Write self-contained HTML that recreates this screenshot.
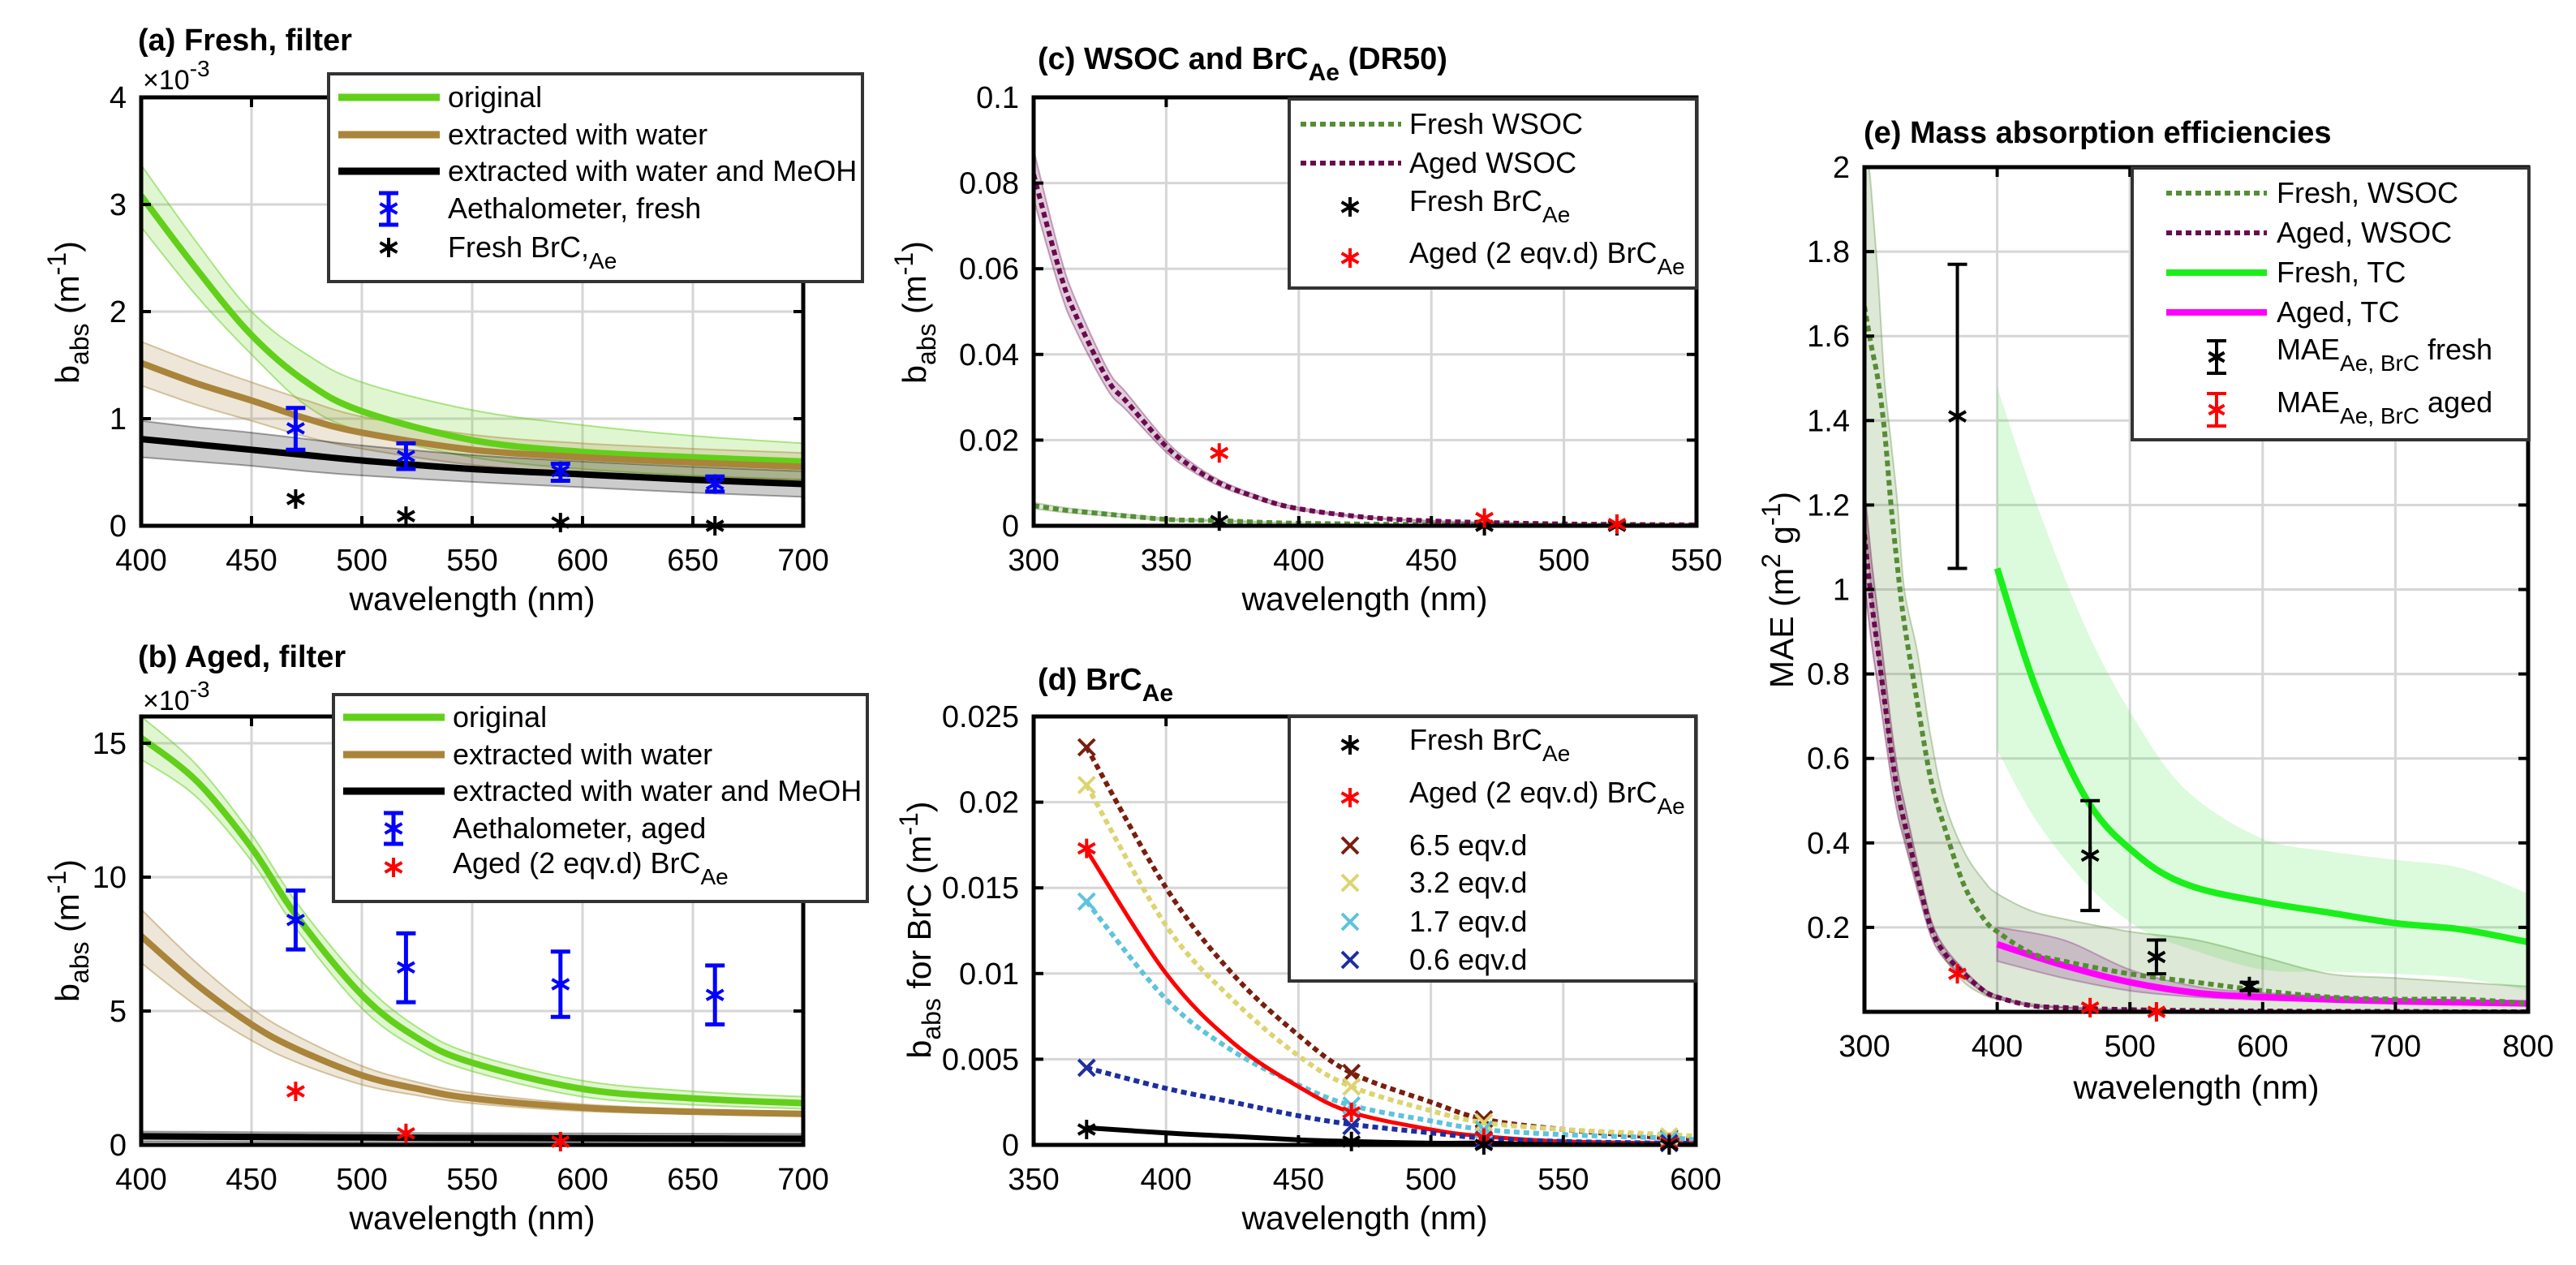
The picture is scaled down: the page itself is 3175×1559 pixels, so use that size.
<!DOCTYPE html>
<html><head><meta charset="utf-8">
<style>
html,body{margin:0;padding:0;background:#fff;}
svg{display:block;}
text{font-family:"Liberation Sans",Arial,sans-serif;fill:#000;}
.tt{font-size:38px;font-weight:bold;}
.lab{font-size:41px;}
.lg{font-size:36px;}
.tk{font-size:38px;}
</style></head>
<body>
<svg id="fig" width="3175" height="1559" viewBox="0 0 3175 1559" xmlns="http://www.w3.org/2000/svg">
<defs id="defs"></defs>
<text class="tt" x="170" y="62">(a) Fresh, filter</text>
<text class="tt" x="170" y="822">(b) Aged, filter</text>
<text class="tt" x="1279" y="85">(c) WSOC and BrC<tspan dy="14" font-size="30">Ae</tspan><tspan dy="-14"> (DR50)</tspan></text>
<text class="tt" x="1279" y="850">(d) BrC<tspan dy="14" font-size="30">Ae</tspan></text>
<text class="tt" x="2297" y="176">(e) Mass absorption efficiencies</text>
<text x="176" y="110" font-size="34">×10<tspan dy="-16" font-size="28">-3</tspan></text>
<text x="176" y="875" font-size="34">×10<tspan dy="-16" font-size="28">-3</tspan></text>
<text class="lab" text-anchor="middle" x="582" y="752">wavelength (nm)</text>
<text class="lab" text-anchor="middle" x="582" y="1515">wavelength (nm)</text>
<text class="lab" text-anchor="middle" x="1682" y="752">wavelength (nm)</text>
<text class="lab" text-anchor="middle" x="1682" y="1515">wavelength (nm)</text>
<text class="lab" text-anchor="middle" x="2707" y="1354">wavelength (nm)</text>
<text class="lab" text-anchor="middle" transform="translate(97,385) rotate(-90)">b<tspan dy="12" font-size="32">abs</tspan><tspan dy="-12"> (m</tspan><tspan dy="-16" font-size="32">-1</tspan><tspan dy="16">)</tspan></text>
<text class="lab" text-anchor="middle" transform="translate(97,1147) rotate(-90)">b<tspan dy="12" font-size="32">abs</tspan><tspan dy="-12"> (m</tspan><tspan dy="-16" font-size="32">-1</tspan><tspan dy="16">)</tspan></text>
<text class="lab" text-anchor="middle" transform="translate(1141,385) rotate(-90)">b<tspan dy="12" font-size="32">abs</tspan><tspan dy="-12"> (m</tspan><tspan dy="-16" font-size="32">-1</tspan><tspan dy="16">)</tspan></text>
<text class="lab" text-anchor="middle" transform="translate(1147,1146) rotate(-90)">b<tspan dy="12" font-size="32">abs</tspan><tspan dy="-12"> for BrC (m</tspan><tspan dy="-16" font-size="32">-1</tspan><tspan dy="16">)</tspan></text>
<text class="lab" text-anchor="middle" transform="translate(2210,727) rotate(-90)">MAE (m<tspan dy="-16" font-size="32">2</tspan><tspan dy="16"> g</tspan><tspan dy="-16" font-size="32">-1</tspan><tspan dy="16">)</tspan></text>
<g id="plots"></g>
<g id="legends"></g>
</svg>
<script>
// ---------- DATA ----------
const aWl=[400,425,450,475,500,550,600,650,700];
const aOrig=[3.08,2.40,1.78,1.34,1.07,0.80,0.69,0.64,0.60];
const aOrigHi=[3.37,2.65,2.0,1.6,1.34,1.08,0.94,0.84,0.77];
const aOrigLo=[2.79,2.15,1.6,1.12,0.88,0.64,0.53,0.47,0.43];
const aWater=[1.52,1.33,1.17,1.0,0.87,0.71,0.64,0.59,0.55];
const aWaterHi=[1.72,1.52,1.34,1.17,1.02,0.85,0.77,0.72,0.68];
const aWaterLo=[1.31,1.13,0.98,0.83,0.72,0.57,0.5,0.46,0.43];
const aMeoh=[0.81,0.76,0.71,0.66,0.61,0.53,0.48,0.43,0.39];
const aMeohHi=[0.98,0.92,0.87,0.81,0.75,0.66,0.6,0.55,0.51];
const aMeohLo=[0.64,0.6,0.56,0.51,0.47,0.41,0.36,0.31,0.27];
const aeWl=[470,520,590,660];
const aAeth=[0.91,0.65,0.51,0.39];
const aAethHi=[1.10,0.77,0.58,0.46];
const aAethLo=[0.71,0.53,0.42,0.32];
const aBrc=[0.25,0.09,0.03,0.0];
const bWl=[400,425,450,470,500,525,550,600,650,700];
const bOrig=[15.2,13.6,11.1,8.6,5.6,4.0,3.07,2.09,1.74,1.56];
const bOrigHi=[16.0,14.2,11.6,9.1,6.1,4.4,3.4,2.4,2.0,1.8];
const bOrigLo=[14.4,13.0,10.6,8.1,5.1,3.6,2.75,1.8,1.5,1.35];
const bWater=[7.8,6.0,4.5,3.6,2.6,2.1,1.74,1.39,1.24,1.16];
const bWaterHi=[8.8,6.8,5.1,4.1,2.95,2.35,1.95,1.52,1.33,1.24];
const bWaterLo=[6.8,5.2,3.9,3.1,2.25,1.85,1.55,1.26,1.15,1.08];
const bMeoh=[0.32,0.31,0.30,0.29,0.28,0.27,0.26,0.25,0.24,0.23];
const bMeohHi=[0.5,0.49,0.48,0.47,0.46,0.45,0.44,0.43,0.42,0.41];
const bMeohLo=[0.12,0.12,0.11,0.11,0.1,0.1,0.09,0.09,0.08,0.08];
const bAeth=[8.4,6.63,6.0,5.6];
const bAethHi=[9.5,7.9,7.22,6.7];
const bAethLo=[7.3,5.33,4.78,4.5];
const bBrcWl=[470,520,590];
const bBrc=[2.0,0.43,0.12];
const cWl=[300,310,316,328,335,350,360,370,382,398,425,451,475,503,550];
const cAged=[0.082,0.059,0.049,0.034,0.029,0.0185,0.0136,0.0100,0.0071,0.0042,0.0020,0.0011,0.0007,0.0004,0.0002];
const cFresh=[0.0047,0.0038,0.0034,0.0027,0.0023,0.0015,0.0013,0.0012,0.0009,0.0006,0.0004,0.0003,0.0002,0.0001,0.0001];
const cPtWl=[370,470,520];
const cFreshBrc=[0.0011,0.0000,0.0000];
const cAgedBrc=[0.0170,0.0018,0.0004];
const dWl=[370,400,425,450,470,500,520,550,590,600];
const d65=[0.0232,0.0150,0.0100,0.0064,0.0042,0.0025,0.0015,0.0009,0.0004,0.0004];
const d32=[0.0210,0.0128,0.0085,0.0052,0.0034,0.0020,0.0013,0.0009,0.0006,0.0005];
const d17=[0.0142,0.0085,0.0055,0.0035,0.0023,0.0014,0.0009,0.0006,0.0004,0.0003];
const dAged=[0.0172,0.0100,0.0060,0.0034,0.0019,0.0009,0.0005,0.0002,0.0001,0.0001];
const d06=[0.0045,0.0033,0.0025,0.0017,0.0012,0.0007,0.0004,0.0002,0.0001,0.0001];
const dFresh=[0.0010,0.0007,0.0005,0.0003,0.0002,0.0001,0.0001,0.0000,0.0000,0.0000];
const dPtWl=[370,470,520,590];
const dPt65=[0.0232,0.0042,0.0015,0.0004];
const dPt32=[0.0210,0.0034,0.0013,0.0005];
const dPt17=[0.0142,0.0023,0.0009,0.0003];
const dPt06=[0.0045,0.0011,0.0003,0.0001];
const dPtAged=[0.0173,0.0019,0.0004,0.0001];
const dPtFresh=[0.0009,0.0002,0.0000,0.0000];
const eWsWl=[300,305,310,315,320,325,330,340,350,360,375,390,400,425,450,500,550,600,650,700,750,800];
const eFreshWs=[1.67,1.58,1.5,1.38,1.2,1.05,0.92,0.73,0.55,0.44,0.30,0.22,0.19,0.14,0.12,0.09,0.07,0.05,0.035,0.03,0.03,0.02];
const eFreshWsHi=[2.1,1.95,1.75,1.5,1.35,1.2,1.0,0.85,0.65,0.5,0.38,0.31,0.28,0.24,0.22,0.19,0.17,0.13,0.09,0.08,0.07,0.06];
const eFreshWsLo=[1.2,1.0,0.85,0.72,0.6,0.5,0.42,0.3,0.2,0.13,0.07,0.04,0.03,0.02,0.01,0.0,0.0,0.0,0.0,0.0,0.0,0.0];
const eAgedWs=[1.13,0.98,0.86,0.74,0.62,0.52,0.45,0.32,0.2,0.14,0.09,0.05,0.035,0.015,0.01,0.005,0.003,0.002,0.001,0.001,0.0,0.0];
const eTcWl=[400,430,468,506,544,600,650,700,750,800];
const eFreshTc=[1.05,0.76,0.50,0.37,0.30,0.26,0.235,0.21,0.195,0.165];
const eFreshTcHi=[1.48,1.2,0.9,0.68,0.52,0.41,0.38,0.36,0.34,0.28];
const eFreshTcLo=[0.62,0.45,0.30,0.20,0.15,0.10,0.095,0.09,0.08,0.05];
const eAgedTcWl=[400,450,500,550,600,700,800];
const eAgedTc=[0.16,0.11,0.07,0.045,0.035,0.025,0.02];
const eAgedTcHi=[0.2,0.17,0.1,0.06,0.045,0.03,0.025];
const eAgedTcLo=[0.12,0.08,0.05,0.035,0.028,0.02,0.015];
const eMaeWl=[370,470,520,590];
const eMaeFresh=[1.41,0.37,0.13,0.06];
const eMaeFreshHi=[1.77,0.5,0.17,0.07];
const eMaeFreshLo=[1.05,0.24,0.09,0.05];
const eMaeAgedWl=[370,470,520];
const eMaeAged=[0.09,0.01,0.0];
const aXt=[400,450,500,550,600,650,700];
const aYt=[0,1,2,3,4];
const bYt=[0,5,10,15];
const cXt=[300,350,400,450,500,550];
const cYt=[0,0.02,0.04,0.06,0.08,0.1];
const cYtl=['0','0.02','0.04','0.06','0.08','0.1'];
const dXt=[350,400,450,500,550,600];
const dYt=[0,0.005,0.01,0.015,0.02,0.025];
const dYtl=['0','0.005','0.01','0.015','0.02','0.025'];
const eXt=[300,400,500,600,700,800];
const eYt=[0.2,0.4,0.6,0.8,1,1.2,1.4,1.6,1.8,2];
const eYtl=['0.2','0.4','0.6','0.8','1','1.2','1.4','1.6','1.8','2'];

// ---------- RENDER ----------
const NS='http://www.w3.org/2000/svg';
function mk(tag,attrs,parent){const e=document.createElementNS(NS,tag);for(const k in attrs)e.setAttribute(k,attrs[k]);parent.appendChild(e);return e;}
const plots=document.getElementById('plots');
const defs=document.getElementById('defs');

function makePanel(id,L,R,T,B,xmin,xmax,ymin,ymax){
  const p={id,L,R,T,B,xmin,xmax,ymin,ymax};
  p.sx=v=>L+(v-xmin)/(xmax-xmin)*(R-L);
  p.sy=v=>B-(v-ymin)/(ymax-ymin)*(B-T);
  const cp=mk('clipPath',{id:'clip-'+id},defs);
  mk('rect',{x:L,y:T,width:R-L,height:B-T},cp);
  p.g=mk('g',{},plots);
  
  
  p.grid=mk('g',{},p.g);
  
  
  p.data=mk('g',{'clip-path':'url(#clip-'+id+')'},p.g);
  
  
  p.over=mk('g',{},p.g);
  return p;
}
function axes(p,xt,xtl,yt,ytl){
  xt.forEach((v,i)=>{const x=p.sx(v);
    if(x>p.L+2&&x<p.R-2){const gl=mk('line',{x1:x,x2:x,y1:p.T,y2:p.B,stroke:'#d6d6d6','stroke-width':3},p.grid);
      
      }
    mk('line',{x1:x,x2:x,y1:p.B,y2:p.B-12,stroke:'#000','stroke-width':4},p.over);
    mk('line',{x1:x,x2:x,y1:p.T,y2:p.T+12,stroke:'#000','stroke-width':4},p.over);
    const t=mk('text',{x:x,y:p.B+55,'text-anchor':'middle',class:'tk'},p.over);t.textContent=xtl[i];
    
    
  });
  yt.forEach((v,i)=>{const y=p.sy(v);
    if(y>p.T+2&&y<p.B-2){const gl=mk('line',{x1:p.L,x2:p.R,y1:y,y2:y,stroke:'#d6d6d6','stroke-width':3},p.grid);
      
      }
    mk('line',{x1:p.L,x2:p.L+12,y1:y,y2:y,stroke:'#000','stroke-width':4},p.over);
    mk('line',{x1:p.R,x2:p.R-12,y1:y,y2:y,stroke:'#000','stroke-width':4},p.over);
    const t=mk('text',{x:p.L-18,y:y+13,'text-anchor':'end',class:'tk'},p.over);t.textContent=ytl[i];
    
    
  });
  const box=mk('rect',{x:p.L,y:p.T,width:p.R-p.L,height:p.B-p.T,fill:'none',stroke:'#000','stroke-width':5},p.over);
  
  
}
function toPts(p,xs,ys){return xs.map((x,i)=>[p.sx(x),p.sy(ys[i])]);}
function smooth(P,move){
  let d=(move?'M':'L')+P[0][0].toFixed(1)+','+P[0][1].toFixed(1);
  for(let i=0;i<P.length-1;i++){
    const p0=P[Math.max(0,i-1)],p1=P[i],p2=P[i+1],p3=P[Math.min(P.length-1,i+2)];
    const c1=[p1[0]+(p2[0]-p0[0])/6,p1[1]+(p2[1]-p0[1])/6];
    const c2=[p2[0]-(p3[0]-p1[0])/6,p2[1]-(p3[1]-p1[1])/6];
    d+='C'+c1[0].toFixed(1)+','+c1[1].toFixed(1)+' '+c2[0].toFixed(1)+','+c2[1].toFixed(1)+' '+p2[0].toFixed(1)+','+p2[1].toFixed(1);
  }
  return d;
}
function line(p,xs,ys,color,w,dash,name){
  const a={d:smooth(toPts(p,xs,ys),true),fill:'none',stroke:color,'stroke-width':w,'stroke-linejoin':'round'};
  if(dash)a['stroke-dasharray']=dash;
  const e=mk('path',a,p.data);
  
  
  return e;
}
function band(p,xs,lo,hi,fill,edge,name){
  const up=toPts(p,xs,hi);
  const dn=toPts(p,xs,lo).reverse();
  const d=smooth(up,true)+smooth(dn,false)+'Z';
  const e=mk('path',{d:d,fill:fill,stroke:edge,'stroke-width':2},p.data);
  
  
}
function starAt(parent,x,y,color,r){
  const g=mk('g',{stroke:color,'stroke-width':4,'stroke-linecap':'butt'},parent);
  mk('line',{x1:x,x2:x,y1:y-r,y2:y+r},g);
  mk('line',{x1:x-r*0.87,x2:x+r*0.87,y1:y-r*0.5,y2:y+r*0.5},g);
  mk('line',{x1:x-r*0.87,x2:x+r*0.87,y1:y+r*0.5,y2:y-r*0.5},g);
  return g;
}
function crossAt(parent,x,y,color,r){
  const g=mk('g',{stroke:color,'stroke-width':4},parent);
  mk('line',{x1:x-r,x2:x+r,y1:y-r,y2:y+r},g);
  mk('line',{x1:x-r,x2:x+r,y1:y+r,y2:y-r},g);
  return g;
}
function errAt(parent,x,y1,y2,color,w){
  const g=mk('g',{stroke:color,'stroke-width':w},parent);
  mk('line',{x1:x,x2:x,y1:y1,y2:y2},g);
  mk('line',{x1:x-12,x2:x+12,y1:y1,y2:y1},g);
  mk('line',{x1:x-12,x2:x+12,y1:y2,y2:y2},g);
  return g;
}
function stars(p,xs,ys,color,name){
  xs.forEach((x,i)=>{const s=starAt(p.over,p.sx(x),p.sy(ys[i]),color,12);
    
    });
}
function crosses(p,xs,ys,color,name){
  xs.forEach((x,i)=>{const s=crossAt(p.over,p.sx(x),p.sy(ys[i]),color,10);
    
    });
}
function errs(p,xs,ys,lo,hi,color,w,name){
  xs.forEach((x,i)=>{const g=errAt(p.over,p.sx(x),p.sy(hi[i]),p.sy(lo[i]),color,w);
    
    
    starAt(g,p.sx(x),p.sy(ys[i]),color,12);});
}
const GREEN='#62d01a',BROWN='#a9843a',AGEDW='#6a0a4e',FRESHW='#558d35';

const pa=makePanel('a',174,990,120,648,400,700,0,4);
axes(pa,aXt,aXt.map(String),aYt,aYt.map(String));
band(pa,aWl,aOrigLo,aOrigHi,'rgba(98,208,26,0.2)','rgba(98,208,26,0.5)','band-original-a');
band(pa,aWl,aWaterLo,aWaterHi,'rgba(169,132,58,0.2)','rgba(169,132,58,0.45)','band-water-a');
band(pa,aWl,aMeohLo,aMeohHi,'rgba(0,0,0,0.2)','rgba(0,0,0,0.35)','band-meoh-a');
line(pa,aWl,aOrig,GREEN,8,null,'line-original-a');
line(pa,aWl,aWater,BROWN,8,null,'line-water-a');
line(pa,aWl,aMeoh,'#000',8,null,'line-meoh-a');
errs(pa,aeWl,aAeth,aAethLo,aAethHi,'#0000ff',5,'aethalometer-fresh-point');
stars(pa,aeWl,aBrc,'#000','fresh-brc-point');

const pb=makePanel('b',174,990,883,1411,400,700,0,16);
axes(pb,aXt,aXt.map(String),bYt,bYt.map(String));
band(pb,bWl,bOrigLo,bOrigHi,'rgba(98,208,26,0.2)','rgba(98,208,26,0.5)','band-original-b');
band(pb,bWl,bWaterLo,bWaterHi,'rgba(169,132,58,0.2)','rgba(169,132,58,0.45)','band-water-b');
band(pb,bWl,bMeohLo,bMeohHi,'rgba(0,0,0,0.2)','rgba(0,0,0,0.35)','band-meoh-b');
line(pb,bWl,bOrig,GREEN,8,null,'line-original-b');
line(pb,bWl,bWater,BROWN,8,null,'line-water-b');
line(pb,bWl,bMeoh,'#000',8,null,'line-meoh-b');
errs(pb,aeWl,bAeth,bAethLo,bAethHi,'#0000ff',5,'aethalometer-aged-point');
stars(pb,bBrcWl,bBrc,'#ff0000','aged-brc-point');

const pc=makePanel('c',1274,2091,120,648,300,550,0,0.1);
axes(pc,cXt,cXt.map(String),cYt,cYtl);
band(pc,cWl,cAged.map(v=>v*0.93),cAged.map(v=>v*1.07),'rgba(106,10,78,0.2)','rgba(106,10,78,0.35)','band-aged-wsoc-c');
band(pc,cWl,cFresh.map(v=>v*0.85),cFresh.map(v=>v*1.15),'rgba(85,141,53,0.2)','rgba(85,141,53,0.35)','band-fresh-wsoc-c');
line(pc,cWl,cFresh,FRESHW,6,'7 5','line-fresh-wsoc-c');
line(pc,cWl,cAged,AGEDW,6,'7 5','line-aged-wsoc-c');
stars(pc,cPtWl,cFreshBrc,'#000','fresh-brc-point-c');
stars(pc,cPtWl,cAgedBrc,'#ff0000','aged-brc-point-c');

const pd=makePanel('d',1274,2090,883,1411,350,600,0,0.025);
axes(pd,dXt,dXt.map(String),dYt,dYtl);
line(pd,dWl,d65,'#7a1e0e',6,'7 5','line-6.5-eqvd');
line(pd,dWl,d32,'#dcd470',6,'7 5','line-3.2-eqvd');
line(pd,dWl,d17,'#5ec3dc',6,'7 5','line-1.7-eqvd');
line(pd,dWl,dAged,'#ff0000',5,null,'line-aged-brc-d');
line(pd,dWl,d06,'#1e2ea0',6,'7 5','line-0.6-eqvd');
line(pd,dWl,dFresh,'#000',6,null,'line-fresh-brc-d');
crosses(pd,dPtWl,dPt65,'#7a1e0e','point-6.5-eqvd');
crosses(pd,dPtWl,dPt32,'#dcd470','point-3.2-eqvd');
crosses(pd,dPtWl,dPt17,'#5ec3dc','point-1.7-eqvd');
crosses(pd,dPtWl,dPt06,'#1e2ea0','point-0.6-eqvd');
stars(pd,dPtWl,dPtAged,'#ff0000','aged-brc-point-d');
stars(pd,dPtWl,dPtFresh,'#000','fresh-brc-point-d');

const pe=makePanel('e',2298,3116,206,1247,300,800,0,2);
axes(pe,eXt,eXt.map(String),eYt,eYtl);
band(pe,eTcWl,eFreshTcLo,eFreshTcHi,'rgba(60,230,60,0.18)','none','band-fresh-tc');
band(pe,eWsWl,eFreshWsLo,eFreshWsHi,'rgba(85,141,53,0.2)','rgba(85,141,53,0.35)','band-fresh-wsoc-e');
band(pe,eWsWl,eAgedWs.map(v=>v*0.9),eAgedWs.map(v=>v*1.1),'rgba(106,10,78,0.25)','rgba(106,10,78,0.4)','band-aged-wsoc-e');
band(pe,eAgedTcWl,eAgedTcLo,eAgedTcHi,'rgba(140,60,140,0.25)','rgba(140,60,140,0.4)','band-aged-tc');
line(pe,eTcWl,eFreshTc,'#1aef1a',8,null,'line-fresh-tc');
line(pe,eAgedTcWl,eAgedTc,'#ff00ff',8,null,'line-aged-tc');
line(pe,eWsWl,eAgedWs,AGEDW,6,'7 5','line-aged-wsoc-e');
line(pe,eWsWl,eFreshWs,FRESHW,6,'7 5','line-fresh-wsoc-e');
errs(pe,eMaeWl,eMaeFresh,eMaeFreshLo,eMaeFreshHi,'#000',4,'mae-fresh-point');
stars(pe,eMaeAgedWl,eMaeAged,'#ff0000','mae-aged-point');

// ---------- LEGENDS ----------
const lgRoot=document.getElementById('legends');
function legendBox(name,x,y,w,h){
  const g=mk('g',{},lgRoot);
  
  
  mk('rect',{x:x,y:y,width:w,height:h,fill:'#fff',stroke:'#333','stroke-width':4},g);
  return g;
}
function lgText(g,x,y,main,sub,rest){
  const t=mk('text',{x:x,y:y+12,class:'lg'},g);
  t.appendChild(document.createTextNode(main));
  if(sub){const s=mk('tspan',{dy:14,'font-size':28},t);s.textContent=sub;}
  if(rest){const s=mk('tspan',{dy:-14},t);s.textContent=rest;}
  
  
}
function lgLine(g,x1,x2,y,color,w,dash){const a={x1:x1,x2:x2,y1:y,y2:y,stroke:color,'stroke-width':w};if(dash)a['stroke-dasharray']=dash;mk('line',a,g);}
let g=legendBox('legend-a',405,91,658,256);
lgLine(g,417,542,120,GREEN,9);lgText(g,552,120,'original');
lgLine(g,417,542,166,BROWN,9);lgText(g,552,166,'extracted with water');
lgLine(g,417,542,211,'#000',9);lgText(g,552,211,'extracted with water and MeOH');
errAt(g,479,238,277,'#0000ff',5);starAt(g,479,257,'#0000ff',12);lgText(g,552,257,'Aethalometer, fresh');
starAt(g,479,305,'#000',12);lgText(g,552,305,'Fresh BrC,','Ae');
g=legendBox('legend-b',411,856,658,255);
lgLine(g,423,548,884,GREEN,9);lgText(g,558,884,'original');
lgLine(g,423,548,930,BROWN,9);lgText(g,558,930,'extracted with water');
lgLine(g,423,548,975,'#000',9);lgText(g,558,975,'extracted with water and MeOH');
errAt(g,485,1002,1040,'#0000ff',5);starAt(g,485,1021,'#0000ff',12);lgText(g,558,1021,'Aethalometer, aged');
starAt(g,485,1069,'#ff0000',12);lgText(g,558,1064,'Aged (2 eqv.d) BrC','Ae');
g=legendBox('legend-c',1589,122,502,233);
lgLine(g,1603,1727,153,FRESHW,6,'7 5');lgText(g,1737,153,'Fresh WSOC');
lgLine(g,1603,1727,201,AGEDW,6,'7 5');lgText(g,1737,201,'Aged WSOC');
starAt(g,1664,255,'#000',12);lgText(g,1737,248,'Fresh BrC','Ae');
starAt(g,1664,318,'#ff0000',12);lgText(g,1737,312,'Aged (2 eqv.d) BrC','Ae');
g=legendBox('legend-d',1589,883,501,326);
starAt(g,1664,918,'#000',12);lgText(g,1737,912,'Fresh BrC','Ae');
starAt(g,1664,983,'#ff0000',12);lgText(g,1737,977,'Aged (2 eqv.d) BrC','Ae');
crossAt(g,1664,1042,'#7a1e0e',10);lgText(g,1737,1042,'6.5 eqv.d');
crossAt(g,1664,1088,'#dcd470',10);lgText(g,1737,1088,'3.2 eqv.d');
crossAt(g,1664,1136,'#5ec3dc',10);lgText(g,1737,1136,'1.7 eqv.d');
crossAt(g,1664,1183,'#1e2ea0',10);lgText(g,1737,1183,'0.6 eqv.d');
g=legendBox('legend-e',2628,207,489,335);
lgLine(g,2670,2794,238,FRESHW,6,'7 5');lgText(g,2806,238,'Fresh, WSOC');
lgLine(g,2670,2794,287,AGEDW,6,'7 5');lgText(g,2806,287,'Aged, WSOC');
lgLine(g,2670,2794,336,'#1aef1a',8);lgText(g,2806,336,'Fresh, TC');
lgLine(g,2670,2794,385,'#ff00ff',8);lgText(g,2806,385,'Aged, TC');
errAt(g,2732,420,460,'#000',4);starAt(g,2732,440,'#000',11);lgText(g,2806,431,'MAE','Ae, BrC',' fresh');
errAt(g,2732,485,525,'#ff0000',4);starAt(g,2732,505,'#ff0000',11);lgText(g,2806,496,'MAE','Ae, BrC',' aged');
</script>
</body></html>
